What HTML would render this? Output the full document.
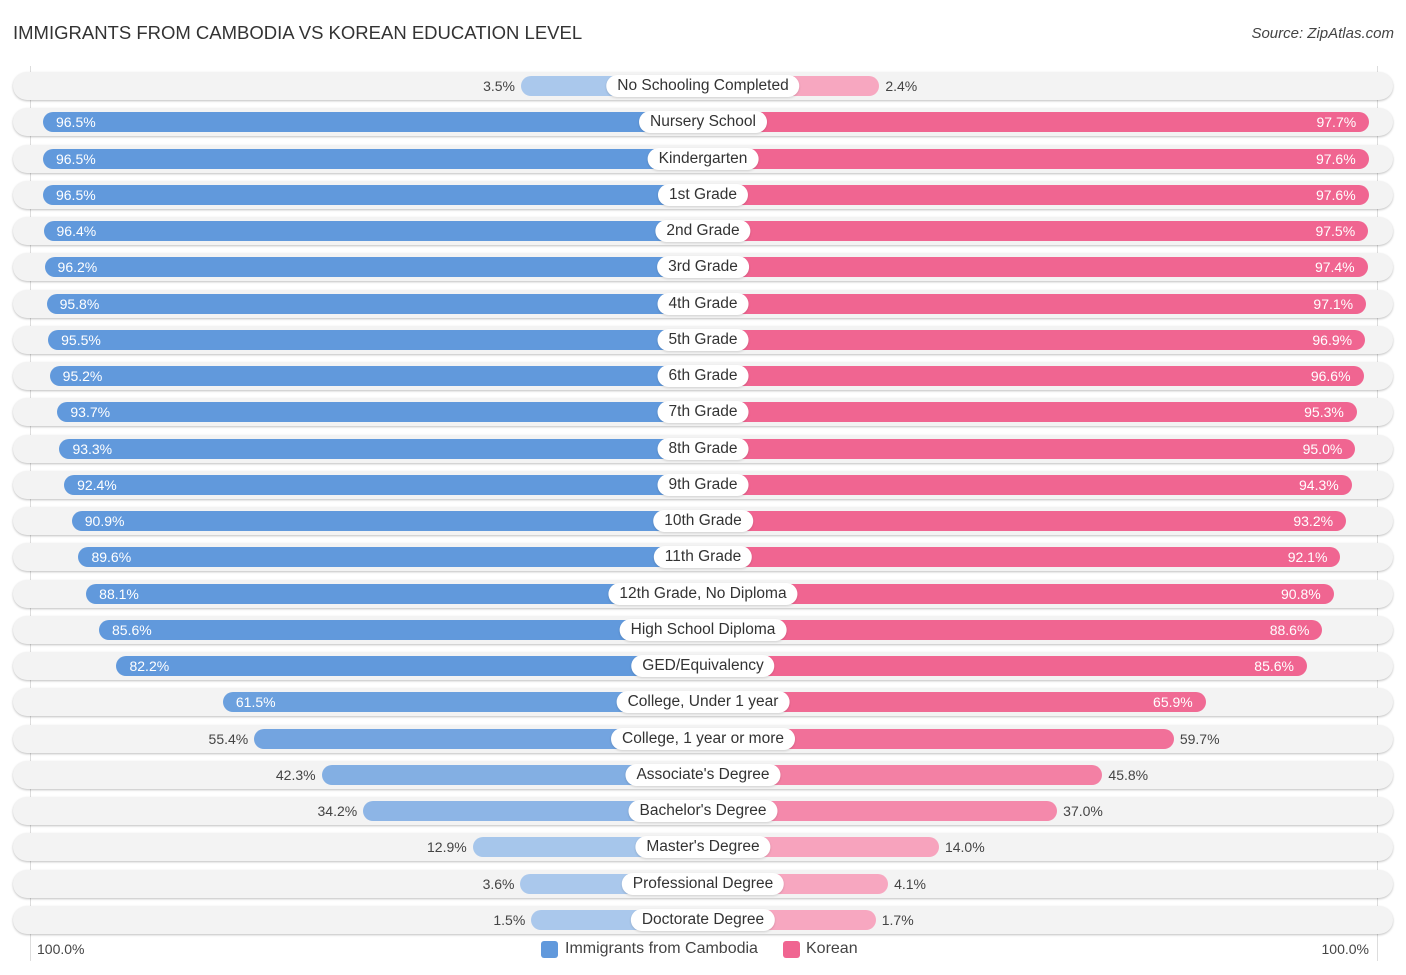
<!DOCTYPE html>
<html><head><meta charset="utf-8">
<style>
body{margin:0;width:1406px;height:975px;background:#fff;font-family:"Liberation Sans",sans-serif;position:relative;overflow:hidden}
.abs{position:absolute}
#title{left:13px;top:22px;font-size:18.5px;color:#333;white-space:nowrap}
#source{right:12px;top:25px;font-size:15px;color:#444;font-style:italic}
.rowbg{position:absolute;left:13px;width:1380px;height:28px;border-radius:14px;background:#f3f3f3;box-shadow:0 1px 2px rgba(0,0,0,.25)}
.bar{position:absolute;height:20px;border-radius:10px}
.lbl{position:absolute;height:22px;line-height:22px;background:#fff;border-radius:11px;padding:0 11px;font-size:15.5px;color:#333;transform:translateX(-50%);white-space:nowrap;box-shadow:0 1px 2px rgba(0,0,0,.15)}
.val{position:absolute;font-size:14px;line-height:20px;white-space:nowrap}
.vline{position:absolute;top:66px;height:895px;width:1px;background:#ddd}
</style></head><body>
<div id="title" class="abs">IMMIGRANTS FROM CAMBODIA VS KOREAN EDUCATION LEVEL</div>
<div id="source" class="abs">Source: ZipAtlas.com</div>
<div class="vline" style="left:30px"></div>
<div class="vline" style="left:1377px"></div>
<div id="chart"></div>
<div class="abs" style="left:37px;top:941px;font-size:14px;color:#444">100.0%</div>
<div class="abs" style="right:37px;top:941px;font-size:14px;color:#444">100.0%</div>
<div class="abs" style="left:541px;top:941px;width:17px;height:17px;background:#6199dc;border-radius:3px"></div>
<div class="abs" style="left:565px;top:940px;font-size:16px;color:#444">Immigrants from Cambodia</div>
<div class="abs" style="left:783px;top:941px;width:17px;height:17px;background:#f06591;border-radius:3px"></div>
<div class="abs" style="left:806px;top:940px;font-size:16px;color:#444">Korean</div>
<script>
const categories=["No Schooling Completed","Nursery School","Kindergarten","1st Grade","2nd Grade","3rd Grade","4th Grade","5th Grade","6th Grade","7th Grade","8th Grade","9th Grade","10th Grade","11th Grade","12th Grade, No Diploma","High School Diploma","GED/Equivalency","College, Under 1 year","College, 1 year or more","Associate's Degree","Bachelor's Degree","Master's Degree","Professional Degree","Doctorate Degree"];
const cambodia=[3.5,96.5,96.5,96.5,96.4,96.2,95.8,95.5,95.2,93.7,93.3,92.4,90.9,89.6,88.1,85.6,82.2,61.5,55.4,42.3,34.2,12.9,3.6,1.5];
const korean=[2.4,97.7,97.6,97.6,97.5,97.4,97.1,96.9,96.6,95.3,95.0,94.3,93.2,92.1,90.8,88.6,85.6,65.9,59.7,45.8,37.0,14.0,4.1,1.7];
const CX=703,Y0=86,DY=(920-86)/(categories.length-1);
function len(v){return 164+5.14*v;}
function yPos(i){return Y0+i*DY;}
function mix(a,b,t){return 'rgb('+a.map((x,k)=>Math.round(x+(b[k]-x)*t)).join(',')+')';}
const blueL=[170,200,236],blueS=[97,153,220],pinkL=[247,167,192],pinkS=[240,101,145];
const chart=document.getElementById('chart');
categories.forEach((c,i)=>{
  const y=yPos(i);
  const bg=document.createElement('div');bg.className='rowbg';bg.style.top=(y-14)+'px';
  
  
  chart.appendChild(bg);
  const t=Math.min(1,Math.max(0,(cambodia[i]-10)/60));
  const lb=len(cambodia[i]);
  const b1=document.createElement('div');b1.className='bar';
  b1.style.cssText+=`left:${CX-lb}px;width:${lb}px;top:${y-10}px;background:${mix(blueL,blueS,t)}`;
  
  
  chart.appendChild(b1);
  const t2=Math.min(1,Math.max(0,(korean[i]-10)/60));
  const lr=len(korean[i]);
  const b2=document.createElement('div');b2.className='bar';
  b2.style.cssText+=`left:${CX}px;width:${lr}px;top:${y-10}px;background:${mix(pinkL,pinkS,t2)}`;
  
  
  chart.appendChild(b2);
  const inside=cambodia[i]>60;
  const v1=document.createElement('div');v1.className='val';v1.textContent=cambodia[i].toFixed(1)+'%';
  v1.style.top=(y-10)+'px';
  if(inside){v1.style.left=(CX-lb+13)+'px';v1.style.color='#fff';}
  else{v1.style.right=(1406-(CX-lb)+6)+'px';v1.style.color='#444';}
  
  
  chart.appendChild(v1);
  const v2=document.createElement('div');v2.className='val';v2.textContent=korean[i].toFixed(1)+'%';
  v2.style.top=(y-10)+'px';
  if(korean[i]>60){v2.style.right=(1406-(CX+lr)+13)+'px';v2.style.color='#fff';}
  else{v2.style.left=(CX+lr+6)+'px';v2.style.color='#444';}
  
  
  chart.appendChild(v2);
  const l=document.createElement('div');l.className='lbl';l.textContent=c;
  l.style.left=CX+'px';l.style.top=(y-11)+'px';
  
  
  chart.appendChild(l);
});
</script>
</body></html>
